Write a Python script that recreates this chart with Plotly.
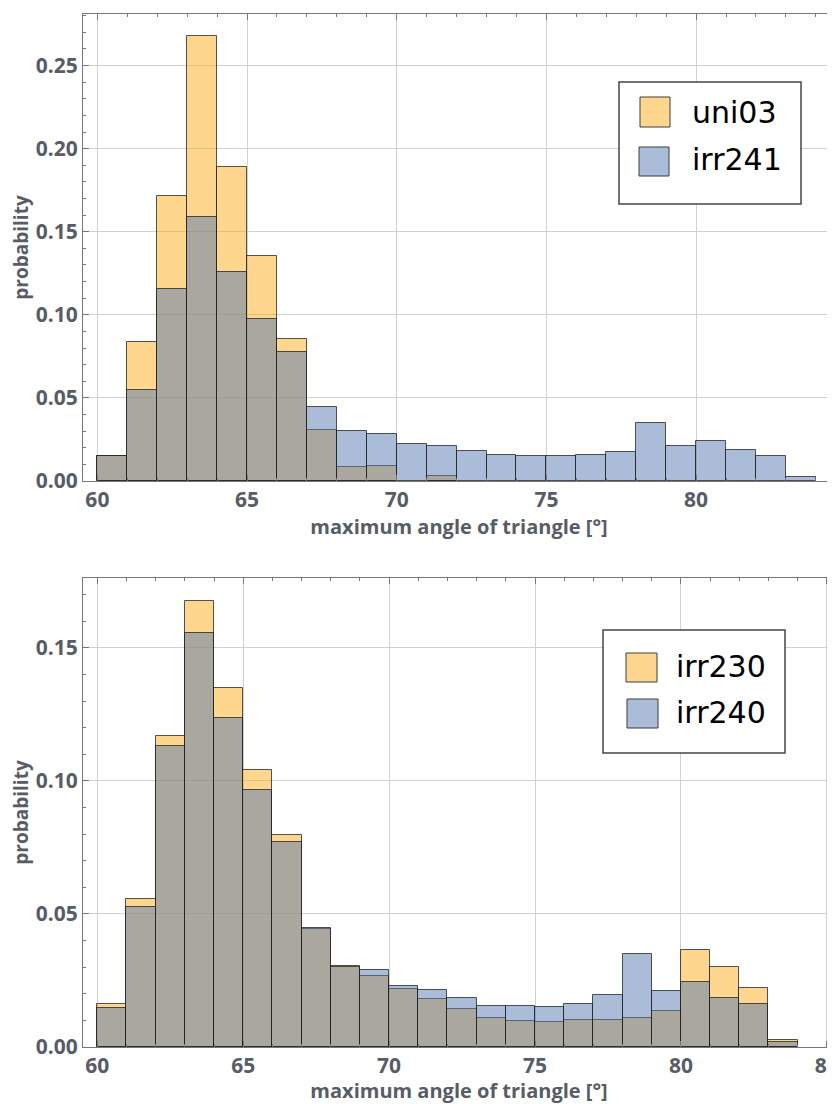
import plotly.graph_objects as go

# ---- data ----
bin_left = list(range(60, 84))  # histogram bins of width 1 degree

top_names = ["uni03", "irr241"]
top_uni03 = [0.0152, 0.0835, 0.1715, 0.268, 0.1888, 0.1356, 0.0853, 0.0307, 0.0086, 0.0092,
             None, 0.003, None, None, None, None, None, None, None, None, None, None, None, None]
top_irr241 = [0.0150, 0.0548, 0.1156, 0.1587, 0.1256, 0.0977, 0.0778, 0.0444, 0.0303, 0.0283,
              0.0225, 0.0213, 0.0180, 0.0157, 0.0149, 0.0149, 0.0157, 0.0175, 0.0347, 0.0209,
              0.0239, 0.0187, 0.0150, 0.0026]

bot_names = ["irr230", "irr240"]
bot_irr230 = [0.0163, 0.0558, 0.1169, 0.1676, 0.1350, 0.1041, 0.0798, 0.0443, 0.0305, 0.0267,
              0.0218, 0.0181, 0.0141, 0.0109, 0.0098, 0.0095, 0.0103, 0.0103, 0.0109, 0.0137,
              0.0366, 0.0302, 0.0220, 0.0028]
bot_irr240 = [0.0148, 0.0526, 0.1130, 0.1556, 0.1237, 0.0965, 0.0772, 0.0446, 0.0300, 0.0289,
              0.0228, 0.0216, 0.0185, 0.0156, 0.0156, 0.0152, 0.0161, 0.0197, 0.0350, 0.0210,
              0.0246, 0.0185, 0.0161, 0.0020]

x_ticks = [60, 65, 70, 75, 80, 85]
x_title = "maximum angle of triangle [°]"
y_title = "probability"

# ---- style ----
PAGE_OFF = 8            # default page body margin in the browser
W, H = 835 - PAGE_OFF, 1104 - PAGE_OFF
ORANGE = "rgba(253,174,28,0.5)"
BLUE = "rgba(85,121,175,0.5)"
EDGE = "rgba(30,30,30,0.75)"
ORANGE_SW = "rgb(254,214,142)"
BLUE_SW = "rgb(170,188,215)"
TXT = "rgb(88,92,102)"
FONT = "Open Sans"
FRAME = "rgb(120,120,120)"
GRID = "rgb(208,208,208)"

fig = go.Figure()


def add_hist(vals, color, name, xa, ya):
    fig.add_trace(go.Bar(
        x=bin_left, y=vals, width=1, offset=0, name=name,
        marker=dict(color=color, line=dict(color=EDGE, width=1)),
        xaxis=xa, yaxis=ya, showlegend=False,
    ))


add_hist(top_uni03, ORANGE, top_names[0], "x", "y")
add_hist(top_irr241, BLUE, top_names[1], "x", "y")
add_hist(bot_irr230, ORANGE, bot_names[0], "x2", "y2")
add_hist(bot_irr240, BLUE, bot_names[1], "x2", "y2")


def px_x(p):
    return (p - PAGE_OFF) / W


def px_y(p):
    return 1 - (p - PAGE_OFF) / H


xcommon = dict(
    tickvals=x_ticks, showgrid=True, gridcolor=GRID, gridwidth=1,
    showline=True, linecolor=FRAME, linewidth=1, mirror="allticks",
    ticks="inside", ticklen=6, tickcolor=FRAME, zeroline=False,
    ticklabeloverflow="allow", automargin=False,
    minor=dict(dtick=1, ticks="inside", ticklen=3, tickcolor=FRAME, showgrid=False),
    tickfont=dict(family=FONT, size=21, color=TXT, weight="bold"),
    title=dict(text=x_title, font=dict(family=FONT, size=20, color=TXT, weight="bold"), standoff=6),
)
ycommon = dict(
    tickformat=".2f", showgrid=True, gridcolor=GRID, gridwidth=1,
    showline=True, linecolor=FRAME, linewidth=1, mirror=False,
    ticks="inside", ticklen=6, tickcolor=FRAME, zeroline=False, automargin=False,
    minor=dict(dtick=0.01, ticks="inside", ticklen=3, tickcolor=FRAME, showgrid=False),
    tickfont=dict(family=FONT, size=21, color=TXT, weight="bold"),
    title=dict(text=y_title, font=dict(family=FONT, size=19, color=TXT, weight="bold"), standoff=6),
)

fig.update_layout(
    width=W, height=H, margin=dict(l=0, r=0, t=0, b=0, autoexpand=False),
    paper_bgcolor="white", plot_bgcolor="white",
    barmode="overlay", bargap=0,
    xaxis=dict(xcommon, domain=[px_x(83), 1.0], range=[59.52, 84.64], anchor="y"),
    yaxis=dict(ycommon, domain=[px_y(481), px_y(14)], range=[0, 0.281], dtick=0.05, anchor="x"),
    xaxis2=dict(xcommon, domain=[px_x(83), 1.0], range=[59.51, 85.28], anchor="y2"),
    yaxis2=dict(ycommon, domain=[px_y(1047), px_y(578)], range=[0, 0.1763], dtick=0.05, anchor="x2"),
)

# ---- legends (drawn as boxes with swatches) ----
shapes = []
annotations = []


def legend(box, sw1, sw2, txt_x, ty1, ty2, names):
    x0, y0, x1, y1 = box
    shapes.append(dict(type="rect", xref="paper", yref="paper",
                       x0=px_x(x0), x1=px_x(x1), y0=px_y(y1), y1=px_y(y0),
                       fillcolor="white", line=dict(color="rgb(70,70,70)", width=1.5)))
    for (sx0, sy0, sx1, sy1), col in ((sw1, ORANGE_SW), (sw2, BLUE_SW)):
        shapes.append(dict(type="rect", xref="paper", yref="paper",
                           x0=px_x(sx0), x1=px_x(sx1), y0=px_y(sy1), y1=px_y(sy0),
                           fillcolor=col, line=dict(color="rgb(60,60,60)", width=1)))
    for name, ty in zip(names, (ty1, ty2)):
        annotations.append(dict(xref="paper", yref="paper", x=px_x(txt_x), y=px_y(ty),
                                xanchor="left", yanchor="middle", showarrow=False, text=name,
                                font=dict(family="DejaVu Sans", size=30, color="black")))


legend((619, 82, 801, 204), (640, 97, 670, 127), (639, 147, 669, 176), 690, 112, 160, top_names)
legend((603, 630, 785, 753), (626, 653, 657, 682), (627, 699, 658, 728), 674, 667, 712, bot_names)

fig.update_layout(shapes=shapes, annotations=annotations)

fig.write_html("out.html")
